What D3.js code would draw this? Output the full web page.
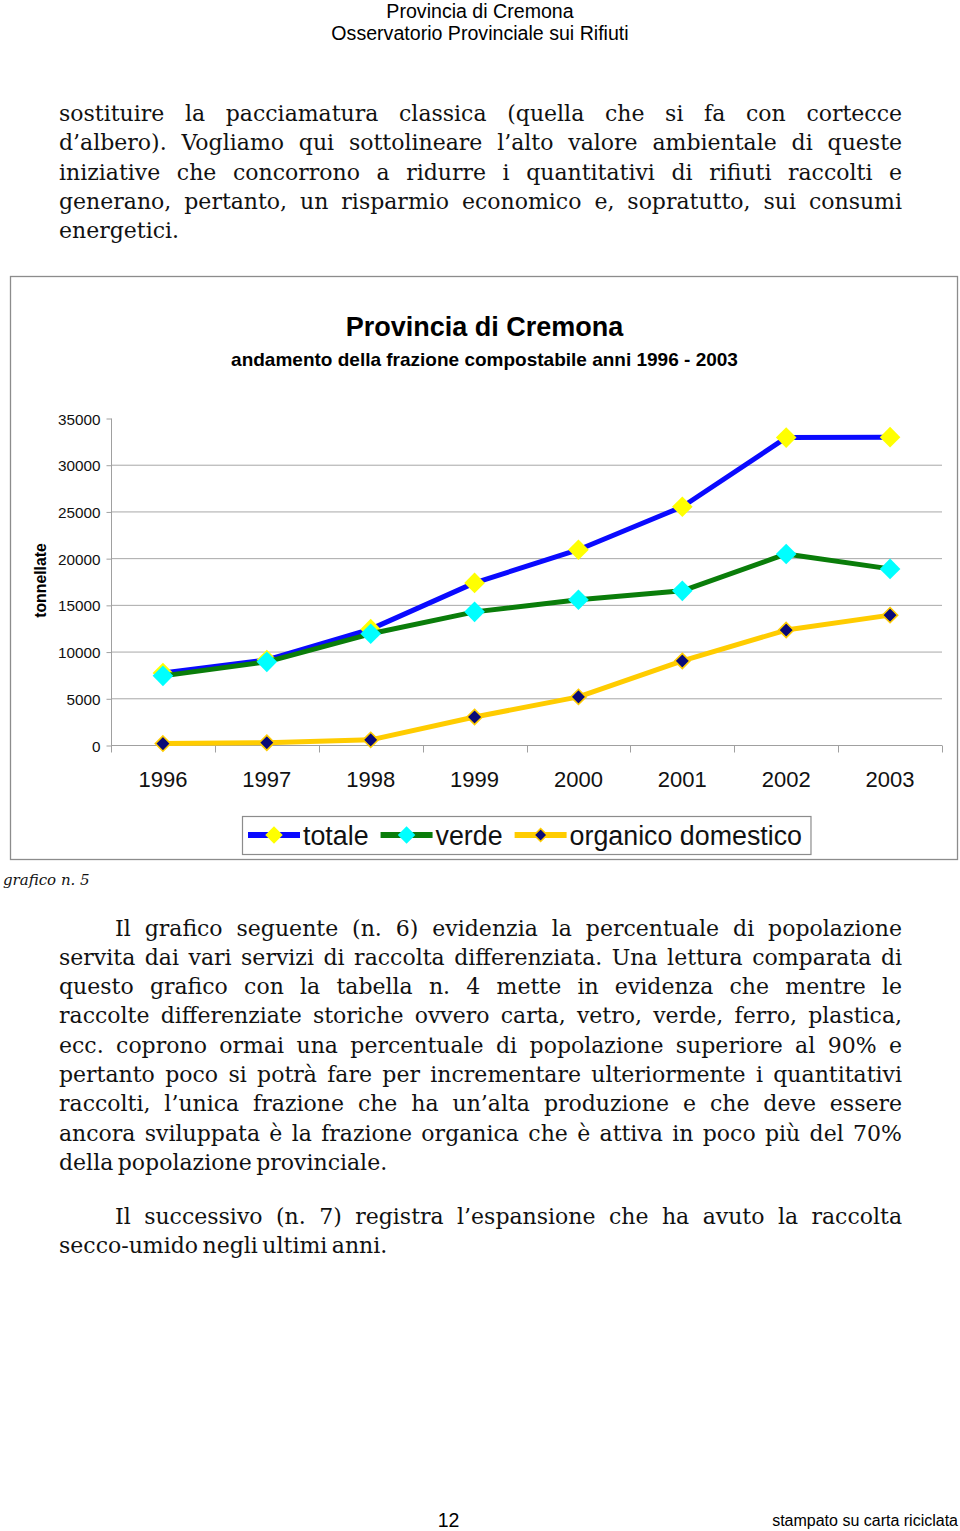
<!DOCTYPE html>
<html><head><meta charset="utf-8">
<script src="https://cdn.jsdelivr.net/npm/d3@7"></script>
<style>
html,body{margin:0;padding:0;background:#fff;width:960px;height:1531px;overflow:hidden;}
#page{position:relative;width:960px;height:1531px;}
svg{position:absolute;left:0;top:0;}
.para{position:absolute;left:59px;width:843px;font-family:"DejaVu Serif";color:#111;word-spacing:-2.5px;}
.line{height:29.3px;line-height:29.3px;text-align:justify;text-align-last:justify;white-space:normal;}
.line.last{text-align-last:left;}
#measure{position:absolute;visibility:hidden;white-space:nowrap;font-family:"DejaVu Serif";word-spacing:-2.5px;}
</style></head><body><div id="page"></div><span id="measure"></span>
<script>
// ---------------- data ----------------
const years = ["1996","1997","1998","1999","2000","2001","2002","2003"];
const totale = [7700, 9100, 12400, 17350, 20900, 25500, 32900, 32950];
const verde = [7400, 8900, 11900, 14250, 15550, 16500, 20450, 18850];
const organico = [150, 250, 550, 3000, 5150, 9000, 12300, 13900];
const yTicks = [0, 5000, 10000, 15000, 20000, 25000, 30000, 35000];
const seriesNames = ["totale", "verde", "organico domestico"];

const para1 = [
 "sostituire la pacciamatura classica (quella che si fa con cortecce",
 "d’albero). Vogliamo qui sottolineare l’alto valore ambientale di queste",
 "iniziative che concorrono a ridurre i quantitativi di rifiuti raccolti e",
 "generano, pertanto, un risparmio economico e, sopratutto, sui consumi",
 "energetici."];
const para2 = [
 "Il grafico seguente (n. 6) evidenzia la percentuale di popolazione",
 "servita dai vari servizi di raccolta differenziata. Una lettura comparata di",
 "questo grafico con la tabella n. 4 mette in evidenza che mentre le",
 "raccolte differenziate storiche ovvero carta, vetro, verde, ferro, plastica,",
 "ecc. coprono ormai una percentuale di popolazione superiore al 90% e",
 "pertanto poco si potrà fare per incrementare ulteriormente i quantitativi",
 "raccolti, l’unica frazione che ha un’alta produzione e che deve essere",
 "ancora sviluppata è la frazione organica che è attiva in poco più del 70%",
 "della popolazione provinciale."];
const para3 = [
 "Il successivo (n. 7) registra l’espansione che ha avuto la raccolta",
 "secco-umido negli ultimi anni."];

// ---------------- page text ----------------
const page = d3.select("#page");
const meas = document.getElementById("measure");
const BASE = 22, WIDTH = 843, INDENT = 56;
let scale = 1;
[[para1,0],[para2,INDENT],[para3,INDENT]].forEach(([p,ind])=>{
  p.forEach((t,i)=>{
    if(i===p.length-1) return;
    meas.style.fontSize = BASE+"px";
    meas.textContent = t;
    const w = meas.getBoundingClientRect().width + (i===0?ind:0);
    scale = Math.min(scale, (WIDTH-2)/w);
  });
});
const fs = BASE*scale;
function para(lines, top, indent){
  const d = page.append("div").attr("class","para").style("top",top+"px").style("font-size",fs+"px");
  lines.forEach((t,i)=>{
    d.append("div").attr("class","line"+(i===lines.length-1?" last":""))
     .style("text-indent",(i===0?indent:0)+"px").text(t);
  });
}
para(para1, 99, 0);
para(para2, 913.5, INDENT);
para(para3, 1201.5, INDENT);

// ---------------- svg ----------------
const svg = page.append("svg").attr("width",960).attr("height",1531);
const sans = "'Liberation Sans', Arial, sans-serif";
svg.append("text").attr("x",480).attr("y",17.5).attr("text-anchor","middle")
  .style("font-family",sans).style("font-size","19.6px").text("Provincia di Cremona");
svg.append("text").attr("x",480).attr("y",39.5).attr("text-anchor","middle")
  .style("font-family",sans).style("font-size","19.6px").text("Osservatorio Provinciale sui Rifiuti");

// chart frame
svg.append("rect").attr("x",10.5).attr("y",276.5).attr("width",947).attr("height",583)
  .attr("fill","#fff").attr("stroke","#8c8c8c").attr("stroke-width",1.3);
svg.append("text").attr("x",484.5).attr("y",335.5).attr("text-anchor","middle")
  .style("font-family",sans).style("font-weight","bold").style("font-size","27px").text("Provincia di Cremona");
svg.append("text").attr("x",484.5).attr("y",365.5).attr("text-anchor","middle")
  .style("font-family",sans).style("font-weight","bold").style("font-size","19px")
  .text("andamento della frazione compostabile anni 1996 - 2003");

const x = d3.scaleBand().domain(years).range([111, 942]);
const y = d3.scaleLinear().domain([0, 35000]).range([745, 418]);
const cx = d => x(d) + x.bandwidth()/2;

// gridlines
svg.append("g").selectAll("line").data(yTicks.filter(v=>v>0 && v<35000)).join("line")
  .attr("x1",111).attr("x2",942).attr("y1",d=>y(d)+0.5).attr("y2",d=>y(d)+0.5)
  .attr("stroke","#a8a8a8").attr("stroke-width",1);

// y axis
const ya = svg.append("g").attr("transform","translate(111.5,0.5)")
  .call(d3.axisLeft(y).tickValues(yTicks).tickSize(5).tickPadding(6).tickFormat(d=>String(d)));
ya.select(".domain").attr("stroke","#a0a0a0").attr("d","M0,"+y(35000)+"V"+y(0));
ya.selectAll(".tick line").attr("stroke","#a0a0a0");
ya.selectAll("text").style("font-family",sans).style("font-size","15.3px").attr("fill","#111").attr("dy","0.36em");

// x axis
const xa = svg.append("g").attr("transform","translate(0,745.5)")
  .call(d3.axisBottom(x).tickSize(0).tickPadding(26));
xa.select(".domain").attr("stroke","#a0a0a0").attr("d","M111,0H942");
xa.selectAll("text").style("font-family",sans).style("font-size","22px").attr("fill","#111");
xa.append("g").selectAll("line").data(years.map(d=>x(d)).concat([x.range()[1]])).join("line")
  .attr("x1",d=>Math.round(d)+0.5).attr("x2",d=>Math.round(d)+0.5).attr("y1",0).attr("y2",7)
  .attr("stroke","#a0a0a0");

svg.append("text").attr("transform","translate(46,580.5) rotate(-90)").attr("text-anchor","middle")
  .style("font-family",sans).style("font-weight","bold").style("font-size","15.8px").text("tonnellate");

// series
const diamond = r => `M0,${-r}L${r},0L0,${r}L${-r},0Z`;
const series = [
  {name:seriesNames[0], values:totale, line:"#0a0aff", fill:"#ffff00", stroke:"none", r:10.3, sw:0},
  {name:seriesNames[1], values:verde, line:"#0a7d0a", fill:"#00ffff", stroke:"none", r:10.3, sw:0},
  {name:seriesNames[2], values:organico, line:"#ffcc00", fill:"#0a0a78", stroke:"#ffcc00", r:7.6, sw:1.6}
];
const lineGen = d3.line().x((d,i)=>cx(years[i])).y(d=>y(d));
series.forEach(s=>{
  const g = svg.append("g");
  g.append("path").attr("d",lineGen(s.values)).attr("fill","none").attr("stroke",s.line)
    .attr("stroke-width",5).attr("stroke-linejoin","round");
  g.selectAll("path.m").data(s.values).join("path").attr("class","m")
    .attr("transform",(d,i)=>`translate(${cx(years[i])},${y(d)})`)
    .attr("d",diamond(s.r)).attr("fill",s.fill).attr("stroke",s.stroke).attr("stroke-width",s.sw);
});

// legend
const lg = svg.append("g");
const lrect = lg.append("rect").attr("x",242.5).attr("y",816.5).attr("height",38).attr("fill","#fff").attr("stroke","#8c8c8c").attr("stroke-width",1.2);
let lx = 248;
series.forEach((s,i)=>{
  lg.append("line").attr("x1",lx).attr("x2",lx+52).attr("y1",835).attr("y2",835)
    .attr("stroke",s.line).attr("stroke-width",6);
  lg.append("path").attr("transform",`translate(${lx+26},835)`).attr("d",diamond(s.r*0.85))
    .attr("fill",s.fill).attr("stroke",s.stroke).attr("stroke-width",s.sw);
  const t = lg.append("text").attr("x",lx+55).attr("y",844.5).style("font-family",sans).style("font-size","26.8px").attr("fill","#111").text(s.name);
  lx = lx + 55 + t.node().getComputedTextLength() + 12;
});
lrect.attr("width", lx - 12 + 9 - 242.5);

// caption & footer
svg.append("text").attr("x",3).attr("y",885).style("font-family","'DejaVu Serif'").style("font-style","italic")
  .style("font-size","15px").attr("fill","#111").text("grafico n. 5");
svg.append("text").attr("x",448.5).attr("y",1526.5).attr("text-anchor","middle").style("font-family",sans)
  .style("font-size","19.5px").text("12");
svg.append("text").attr("x",958).attr("y",1526).attr("text-anchor","end").style("font-family",sans)
  .style("font-size","16px").text("stampato su carta riciclata");
</script></body></html>
